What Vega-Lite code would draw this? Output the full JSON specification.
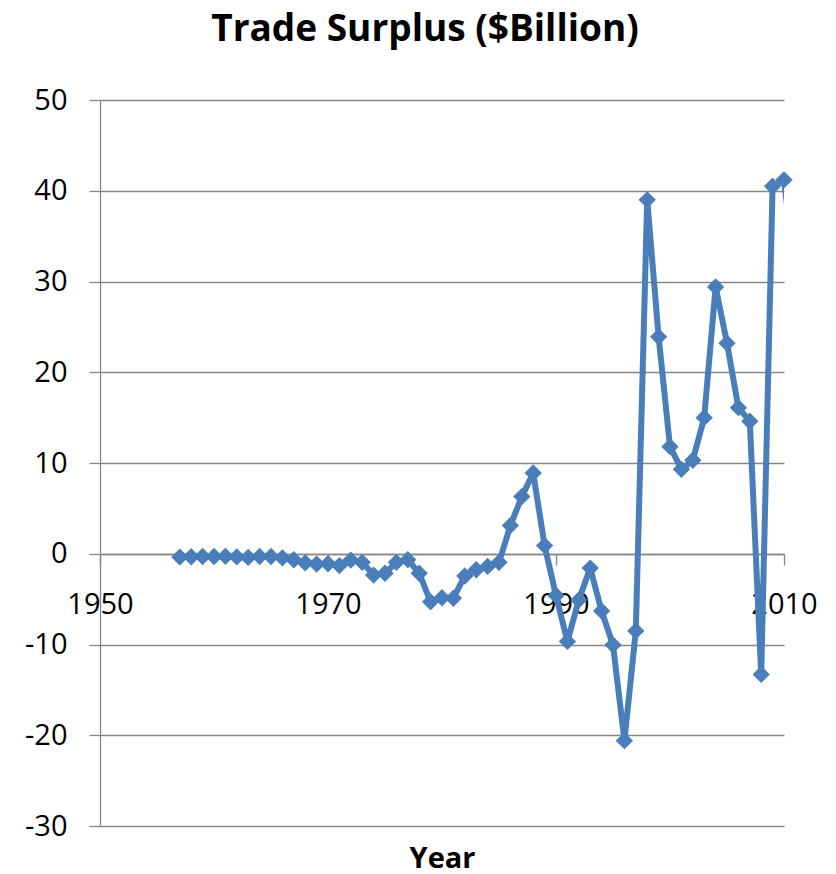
{
  "$schema": "https://vega.github.io/schema/vega-lite/v6.json",
  "width": 684,
  "height": 726,
  "autosize": "none",
  "padding": {"left": 100, "top": 100, "right": 52, "bottom": 48},
  "background": "white",
  "title": {
    "text": "Trade Surplus ($Billion)",
    "font": "Open Sans",
    "fontSize": 37,
    "fontWeight": "bold",
    "color": "black",
    "anchor": "middle",
    "dx": -17,
    "offset": 37
  },
  "config": {
    "view": {"stroke": null},
    "axis": {"labelFont": "Open Sans", "titleFont": "Open Sans", "labelColor": "black", "titleColor": "black"}
  },
  "data": {
    "values": [
      {"year": 1957, "value": -0.37},
      {"year": 1958, "value": -0.33},
      {"year": 1959, "value": -0.3},
      {"year": 1960, "value": -0.3},
      {"year": 1961, "value": -0.28},
      {"year": 1962, "value": -0.35},
      {"year": 1963, "value": -0.4},
      {"year": 1964, "value": -0.3},
      {"year": 1965, "value": -0.3},
      {"year": 1966, "value": -0.45},
      {"year": 1967, "value": -0.66},
      {"year": 1968, "value": -1.0},
      {"year": 1969, "value": -1.14},
      {"year": 1970, "value": -1.1},
      {"year": 1971, "value": -1.3},
      {"year": 1972, "value": -0.7},
      {"year": 1973, "value": -0.95},
      {"year": 1974, "value": -2.35},
      {"year": 1975, "value": -2.15},
      {"year": 1976, "value": -0.95},
      {"year": 1977, "value": -0.65},
      {"year": 1978, "value": -2.15},
      {"year": 1979, "value": -5.3},
      {"year": 1980, "value": -4.85},
      {"year": 1981, "value": -4.9},
      {"year": 1982, "value": -2.45},
      {"year": 1983, "value": -1.76},
      {"year": 1984, "value": -1.4},
      {"year": 1985, "value": -0.95},
      {"year": 1986, "value": 3.1},
      {"year": 1987, "value": 6.3},
      {"year": 1988, "value": 8.9},
      {"year": 1989, "value": 0.9},
      {"year": 1990, "value": -4.6},
      {"year": 1991, "value": -9.66},
      {"year": 1992, "value": -5.1},
      {"year": 1993, "value": -1.58},
      {"year": 1994, "value": -6.3},
      {"year": 1995, "value": -10.05},
      {"year": 1996, "value": -20.6},
      {"year": 1997, "value": -8.5},
      {"year": 1998, "value": 39.0},
      {"year": 1999, "value": 23.9},
      {"year": 2000, "value": 11.8},
      {"year": 2001, "value": 9.3},
      {"year": 2002, "value": 10.3},
      {"year": 2003, "value": 15.0},
      {"year": 2004, "value": 29.4},
      {"year": 2005, "value": 23.2},
      {"year": 2006, "value": 16.1},
      {"year": 2007, "value": 14.6},
      {"year": 2008, "value": -13.3},
      {"year": 2009, "value": 40.5},
      {"year": 2010, "value": 41.2},
      {"year": 2011, "value": 30.8}
    ]
  },
  "resolve": {"axis": {"x": "independent"}, "scale": {"x": "shared", "y": "shared"}},
  "layer": [
    {
      "mark": {"type": "line", "color": "#4A7EBB", "strokeWidth": 6, "strokeJoin": "round", "clip": true},
      "encoding": {
        "x": {
          "field": "year",
          "type": "quantitative",
          "scale": {"domain": [1950, 2010], "nice": false, "zero": false},
          "axis": {
            "orient": "bottom",
            "offset": -272,
            "values": [1950, 1970, 1990, 2010],
            "format": "d",
            "title": null,
            "grid": false,
            "domainColor": "#868686",
            "domainWidth": 1.3,
            "tickColor": "#868686",
            "tickWidth": 1.3,
            "tickSize": 11,
            "labelFontSize": 29,
            "labelPadding": 25,
            "labelFlush": false,
            "labelOverlap": false
          }
        },
        "y": {
          "field": "value",
          "type": "quantitative",
          "scale": {"domain": [-30, 50], "nice": false, "zero": false},
          "axis": {
            "values": [-30, -20, -10, 0, 10, 20, 30, 40, 50],
            "labelExpr": "toString(datum.value)",
            "title": null,
            "grid": true,
            "gridColor": "#868686",
            "gridWidth": 1.3,
            "domainColor": "#868686",
            "domainWidth": 1.3,
            "tickColor": "#868686",
            "tickWidth": 1.3,
            "tickSize": 11,
            "labelFontSize": 29,
            "labelPadding": 22
          }
        }
      }
    },
    {
      "transform": [{"filter": "datum.year <= 2010"}],
      "mark": {"type": "point", "shape": "diamond", "filled": true, "opacity": 1, "color": "#4A7EBB", "size": 300},
      "encoding": {
        "x": {
          "field": "year",
          "type": "quantitative",
          "axis": {
            "orient": "bottom",
            "title": "Year",
            "titleFontSize": 29,
            "titleFontWeight": "bold",
            "titlePadding": 18,
            "labels": false,
            "ticks": false,
            "domain": false,
            "grid": false
          }
        },
        "y": {"field": "value", "type": "quantitative"}
      }
    }
  ]
}
